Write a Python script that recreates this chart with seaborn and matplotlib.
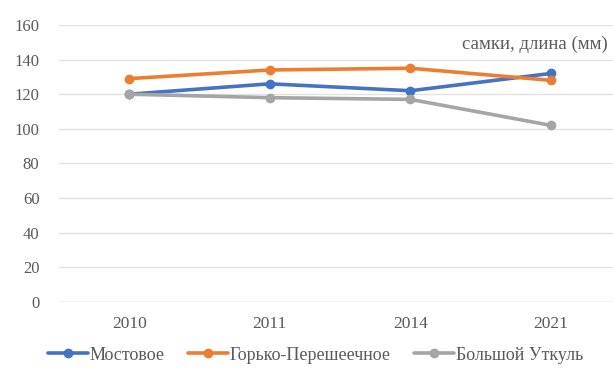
import matplotlib
matplotlib.use("Agg")
import matplotlib.pyplot as plt
import seaborn as sns
import pandas as pd
from matplotlib.lines import Line2D

years = ["2010", "2011", "2014", "2021"]
mostovoe = [120, 126, 122, 132]
gorko = [129, 134, 135, 128]
utkul = [120, 118, 117, 102]
series_names = ["Мостовое", "Горько-Перешеечное", "Большой Уткуль"]
colors = ["#4472C4", "#ED7D31", "#A5A5A5"]
y_ticks = [0, 20, 40, 60, 80, 100, 120, 140, 160]

rows = []
for name, vals in zip(series_names, [mostovoe, gorko, utkul]):
    for i, v in enumerate(vals):
        rows.append({"pos": i, "value": v, "series": name})
df = pd.DataFrame(rows)

sns.set_theme(style="white")
plt.rcParams["font.family"] = ["Liberation Serif", "DejaVu Serif"]

fig = plt.figure(figsize=(6.13, 3.72), dpi=100)
ax = fig.add_axes([0.096, 0.188, 0.904, 0.745])

sns.lineplot(data=df, x="pos", y="value", hue="series", palette=colors,
             hue_order=series_names, marker="o", markersize=7,
             markeredgewidth=0, linewidth=2.6, ax=ax, legend=False)

ax.set_xlim(-0.5, 3.44)
ax.set_ylim(0, 160)
ax.set_yticks(y_ticks)
ax.set_yticklabels([str(t) for t in y_ticks], fontsize=12, color="#595959")
ax.set_xticks(range(len(years)))
ax.set_xticklabels(years, fontsize=12.5, color="#595959")
ax.tick_params(axis="x", pad=10, length=0)
ax.tick_params(axis="y", pad=14, length=0)
ax.set_xlabel("")
ax.set_ylabel("")
ax.grid(axis="y", color="#E3E3E3", linewidth=1)
for s in ax.spines.values():
    s.set_visible(False)
ax.axhline(0, color="#D9D9D9", linewidth=1)

fig.text(0.753, 0.868, "самки, длина (мм)", fontsize=13.5, color="#595959")

handles = [Line2D([0], [0], color=c, lw=2.6, marker="o", markersize=6)
           for c in colors]
fig.legend(handles, series_names, loc="center", bbox_to_anchor=(0.515, 0.045),
           ncol=3, frameon=False, fontsize=13, handlelength=2.2,
           handletextpad=0.1, columnspacing=1.3, labelcolor="#595959")

fig.savefig("out.png", dpi=100)
